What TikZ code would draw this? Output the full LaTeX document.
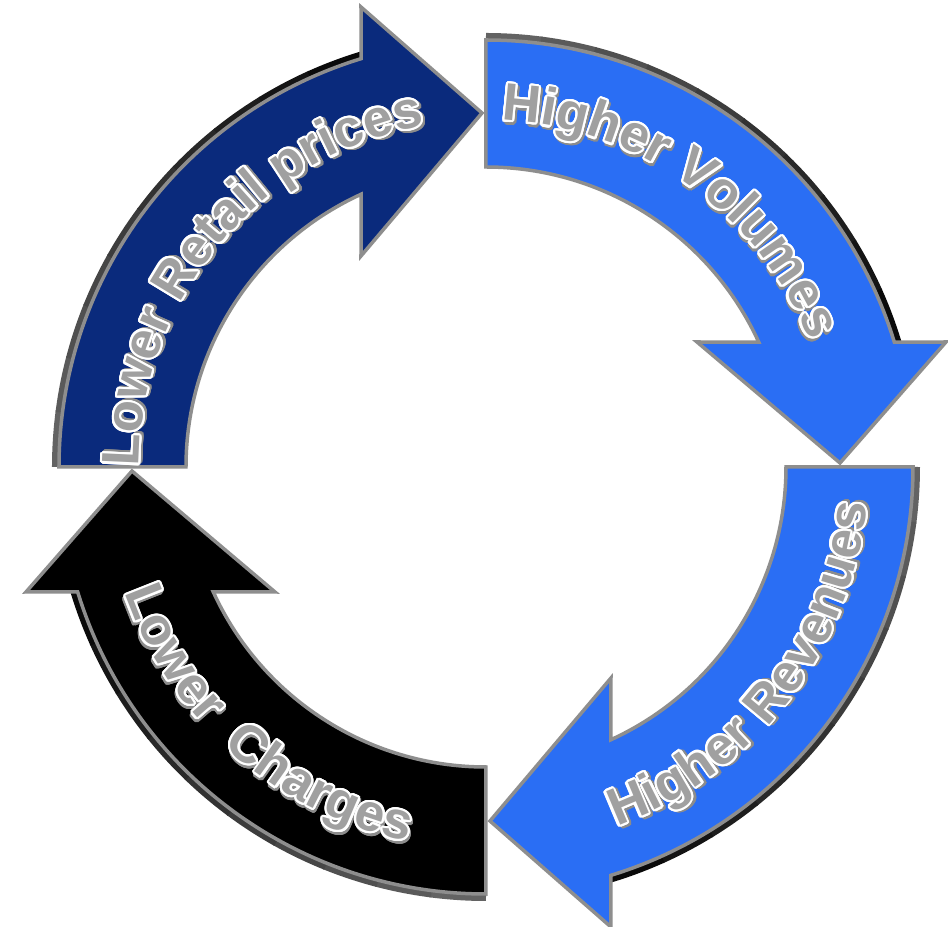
\documentclass[tikz,border=0pt]{standalone}
\usepackage{fontspec}
\setmainfont{Liberation Sans}
\usepackage[copies]{contour}
\usetikzlibrary{decorations.text}
\contourlength{1.2pt}
\contournumber{24}
\definecolor{navyarrow}{HTML}{0A2A7C}
\definecolor{brightarrow}{HTML}{2A6EF4}
\definecolor{rimgray}{HTML}{8E8E8E}
\definecolor{txtgray}{HTML}{A0A0A0}
\newcommand\ringfont{\fontsize{30}{32}\selectfont\bfseries}
\newcommand\ringchar[1]{\rlap{\kern1.2pt\raisebox{-1.2pt}{\contour{black!45}{\textcolor{black!45}{#1}}}}\contour{white}{#1}}
\newcommand\cyclearrow[1]{%
    \foreach \i [evaluate=\i as \dk using int(30+7*\i)] in {0,...,9}
        \draw[line width=1.4mm, black!\dk!rimgray] (180-7.3*\i:8.61) arc[start angle=180-7.3*\i, delta angle=-7.5, radius=8.61];
    \filldraw[fill=#1, draw=rimgray, line width=0.7mm, line join=miter]
        (180:6) -- (180:8.54) arc[start angle=180, end angle=107, radius=8.54]
        -- (-2.5,9.2) -- (-0.08,7.08) -- (-2.5,4.22) -- (114.6:6)
        arc[start angle=114.6, end angle=180, radius=6] -- cycle;
}
\begin{document}
\begin{tikzpicture}[
    ringtext/.style={decorate, decoration={text effects along path, text={#1},
        text effects/.cd, text along path, character command=\ringchar,
        every character/.style={font=\ringfont, text=txtgray}}}]
\useasboundingbox (-9.72,-9.20) rectangle (9.24,9.34);
\foreach \ang/\col in {0/navyarrow,-90/brightarrow,-180/brightarrow,-270/black}
{
    \begin{scope}[rotate=\ang]
        \cyclearrow{\col}
    \end{scope}
}
\path[ringtext={Lower Retail prices}] (180:6.94) arc[start angle=180, end angle=90, radius=6.94];
\path[ringtext={Higher Volumes}] (87.5:6.94) arc[start angle=87.5, end angle=10, radius=6.94];
\path[ringtext={Higher Revenues}] (-70:7.65) arc[start angle=-70, end angle=5, radius=7.65];
\path[ringtext={Lower}] (199.2:7.65) arc[start angle=199.2, end angle=240, radius=7.65];
\path[ringtext={Charges}] (226.6:7.65) arc[start angle=226.6, end angle=275, radius=7.65];
\end{tikzpicture}
\end{document}
